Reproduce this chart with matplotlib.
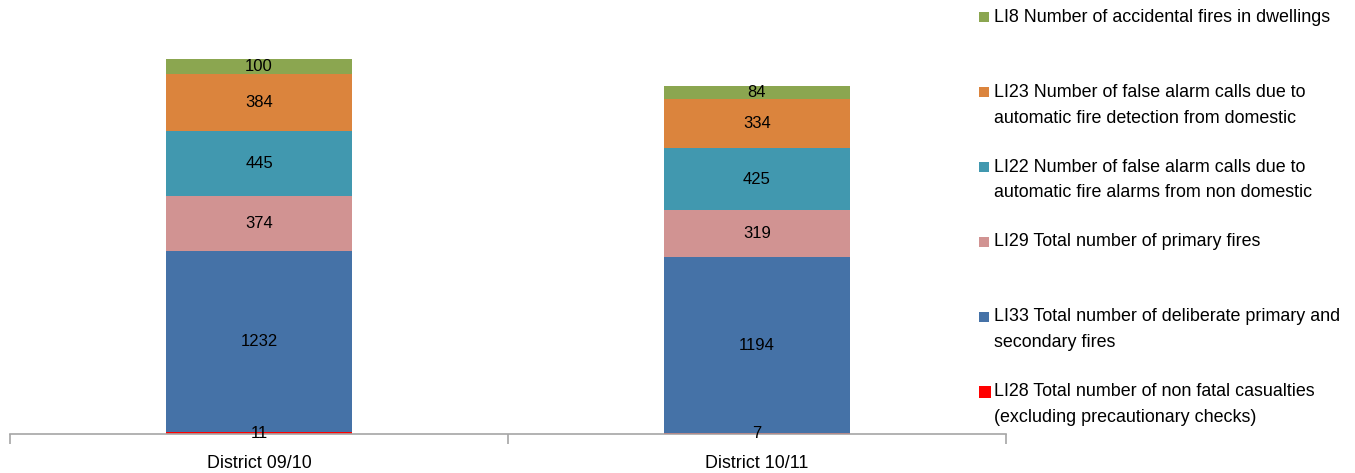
import matplotlib.pyplot as plt
from matplotlib.patches import Rectangle
import numpy as np

plt.rcParams["font.family"] = ["Liberation Sans", "DejaVu Sans"]

categories = ["District 09/10", "District 10/11"]

# series from bottom of the stack to the top
series_names = [
    "LI28 Total number of non fatal casualties\n(excluding precautionary checks)",
    "LI33 Total number of deliberate primary and\nsecondary fires",
    "LI29 Total number of primary fires",
    "LI22 Number of false alarm calls due to\nautomatic fire alarms from non domestic",
    "LI23 Number of false alarm calls due to\nautomatic fire detection from domestic",
    "LI8 Number of accidental fires in dwellings",
]
li28 = [11, 7]
li33 = [1232, 1194]
li29 = [374, 319]
li22 = [445, 425]
li23 = [384, 334]
li8 = [100, 84]
series_values = [li28, li33, li29, li22, li23, li8]
colors = ["#FF0000", "#4572A7", "#D19392", "#4198AF", "#DB843D", "#8BA650"]

W, H = 1355, 473
fig = plt.figure(figsize=(W / 100, H / 100), dpi=100)
ax = fig.add_axes([10 / W, (H - 434) / H, 996 / W, 434 / H])

x = np.arange(len(categories))
bottom = np.zeros(len(categories))
for vals, col in zip(series_values, colors):
    vals = np.array(vals, dtype=float)
    bars = ax.bar(x, vals, width=0.373, bottom=bottom, color=col, linewidth=0)
    for b, v, b0 in zip(bars, vals, bottom):
        ax.text(b.get_x() + b.get_width() / 2, b0 + v / 2, f"{int(v)}",
                ha="center", va="center", fontsize=12, color="black")
    bottom += vals

ax.set_xlim(-0.5, len(categories) - 0.5)
ax.set_ylim(0, 2950)
ax.set_yticks([])
for s in ["top", "right", "left"]:
    ax.spines[s].set_visible(False)
ax.spines["bottom"].set_color("#A6A6A6")
ax.spines["bottom"].set_linewidth(1.2)
ax.set_xticks(x)
ax.set_xticklabels(categories, fontsize=12.9)
ax.tick_params(axis="x", which="major", length=0, pad=15)
ax.set_xticks(np.arange(-0.5, len(categories)), minor=True)
ax.tick_params(axis="x", which="minor", length=7, color="#A6A6A6", width=1.2)

# legend, drawn top to bottom
for i, (name, col) in enumerate(zip(series_names[::-1], colors[::-1])):
    yc = 17.5 + i * 74.8
    sz = 12 if col == "#FF0000" else 10
    fig.patches.append(Rectangle((979 / W, (H - yc - sz / 2) / H), sz / W, sz / H,
                                 transform=fig.transFigure, color=col, lw=0))
    fig.text(994 / W, (H - yc + 8.5) / H, name, fontsize=12.9, ha="left", va="top",
             linespacing=1.68)

fig.savefig("out.png", dpi=100)
